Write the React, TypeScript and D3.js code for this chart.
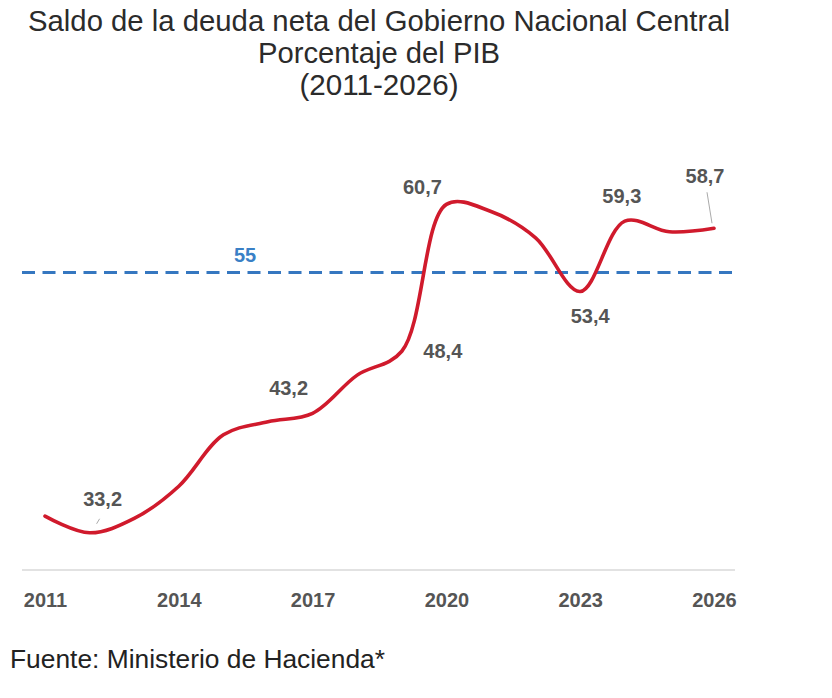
import { useRef, useEffect } from "react";
import * as d3 from "d3";

// Saldo de la deuda neta del GNC (% del PIB)
const years = [2011, 2012, 2013, 2014, 2015, 2016, 2017, 2018, 2019, 2020, 2021, 2022, 2023, 2024, 2025, 2026];
const debt = [34.6, 33.2, 34.4, 37.1, 41.4, 42.5, 43.2, 46.4, 48.4, 60.7, 60.1, 57.9, 53.4, 59.3, 58.4, 58.7];
const labelledYears = [2012, 2017, 2019, 2020, 2023, 2024, 2026];
const tickYears = [2011, 2014, 2017, 2020, 2023, 2026];
const anchorValue = 55;
const titleLines = ["Saldo de la deuda neta del Gobierno Nacional Central", "Porcentaje del PIB", "(2011-2026)"];
const sourceText = "Fuente: Ministerio de Hacienda*";

export default function App() {
  const ref = useRef<SVGSVGElement | null>(null);

  useEffect(() => {
    const svg = d3.select(ref.current);
    svg.selectAll("*").remove();

    const width = 832;
    const height = 698;
    const font = "'Liberation Sans', Arial, sans-serif";
    const narrow = "'Liberation Sans Narrow', 'Arial Narrow', 'Liberation Sans', Arial, sans-serif";

    const x = d3.scaleLinear().domain([2011, 2026]).range([45, 714]);
    const y = d3.scaleLinear().domain([30, 65]).range([571, 153]);

    const comma = d3.formatLocale({ decimal: ",", thousands: ".", grouping: [3], currency: ["$", ""] }).format(".1f");

    svg.append("rect").attr("width", width).attr("height", height).attr("fill", "#fff");

    // título
    const titleWidths = [702, 242, 159];
    const titleBase = [31, 63, 95];
    titleLines.forEach((t, i) => {
      svg
        .append("text")
        .attr("x", 379)
        .attr("y", titleBase[i])
        .attr("text-anchor", "middle")
        .attr("font-family", narrow)
        .attr("font-size", 29)
        .attr("fill", "#2b2b2b")
        .attr("textLength", titleWidths[i])
        .attr("lengthAdjust", "spacingAndGlyphs")
        .text(t);
    });

    // línea base
    svg
      .append("line")
      .attr("x1", 22)
      .attr("x2", 735)
      .attr("y1", 570)
      .attr("y2", 570)
      .attr("stroke", "#e2e2e2")
      .attr("stroke-width", 2);

    // eje X
    const xAxis = svg
      .append("g")
      .attr("transform", "translate(0,570)")
      .call(
        d3
          .axisBottom(x)
          .tickValues(tickYears)
          .tickFormat(d3.format("d"))
          .tickSize(0)
          .tickPadding(23)
      );
    xAxis.select(".domain").remove();
    xAxis
      .selectAll("text")
      .attr("font-family", font)
      .attr("font-size", 20)
      .attr("font-weight", "bold")
      .attr("fill", "#555");

    // ancla 55
    svg
      .append("line")
      .attr("x1", 22)
      .attr("x2", 738)
      .attr("y1", y(anchorValue))
      .attr("y2", y(anchorValue))
      .attr("stroke", "#3577c0")
      .attr("stroke-width", 3)
      .attr("stroke-dasharray", "13,7.5");

    svg
      .append("text")
      .attr("x", 245)
      .attr("y", y(anchorValue) - 10)
      .attr("text-anchor", "middle")
      .attr("font-family", font)
      .attr("font-size", 20)
      .attr("font-weight", "bold")
      .attr("fill", "#3a80c6")
      .text(String(anchorValue));

    // línea
    const points = years.map((yr, i) => ({ year: yr, value: debt[i] }));
    const line = d3
      .line<{ year: number; value: number }>()
      .x((d) => x(d.year))
      .y((d) => y(d.value))
      .curve(d3.curveCatmullRom.alpha(0.5));

    svg
      .append("path")
      .datum(points)
      .attr("fill", "none")
      .attr("stroke", "#d01a2c")
      .attr("stroke-width", 3.6)
      .attr("stroke-linejoin", "round")
      .attr("stroke-linecap", "round")
      .attr("d", line);

    // etiquetas
    const offsets: Record<number, [number, number]> = {
      2012: [13, -27],
      2017: [-24, -18],
      2019: [41, 7],
      2020: [-24, -10],
      2023: [10, 31],
      2024: [-3, -18],
      2026: [-9, -45],
    };
    const leaders: Record<number, [number, number, number, number]> = {
      2012: [10, -14, 7, -9],
      2026: [-7, -36, -2, -5],
    };

    points
      .filter((d) => labelledYears.includes(d.year))
      .forEach((d) => {
        const px = x(d.year);
        const py = y(d.value);
        const [dx, dy] = offsets[d.year];
        const ld = leaders[d.year];
        if (ld) {
          svg
            .append("line")
            .attr("x1", px + ld[0])
            .attr("y1", py + ld[1])
            .attr("x2", px + ld[2])
            .attr("y2", py + ld[3])
            .attr("stroke", "#aaa")
            .attr("stroke-width", 1);
        }
        svg
          .append("text")
          .attr("x", px + dx)
          .attr("y", py + dy)
          .attr("text-anchor", "middle")
          .attr("font-family", font)
          .attr("font-size", 20)
          .attr("font-weight", "bold")
          .attr("fill", "#555")
          .text(comma(d.value));
      });

    // fuente
    svg
      .append("text")
      .attr("x", 10)
      .attr("y", 668)
      .attr("font-family", narrow)
      .attr("font-size", 25)
      .attr("fill", "#222")
      .attr("textLength", 375)
      .attr("lengthAdjust", "spacingAndGlyphs")
      .text(sourceText);
  }, []);

  return (
    <svg
      ref={ref}
      width={832}
      height={698}
      style={{ position: "absolute", left: 0, top: 0 }}
    ></svg>
  );
}
